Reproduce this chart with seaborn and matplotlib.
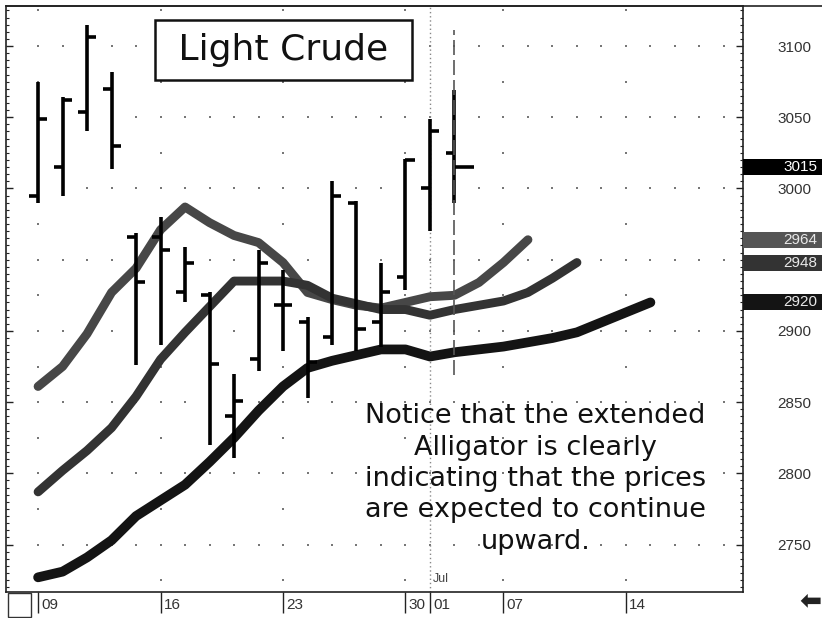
import numpy as np
import pandas as pd
import seaborn as sns
import matplotlib
matplotlib.use("Agg")
import matplotlib.pyplot as plt
from matplotlib.patches import Rectangle
from matplotlib.lines import Line2D
from matplotlib.ticker import MultipleLocator
from matplotlib.transforms import blended_transform_factory, ScaledTranslation

# trading days shown on the chart (Jul 4 holiday skipped)
days = pd.bdate_range("2003-06-09", "2003-07-18", freq="C", holidays=["2003-07-04"])

# daily OHLC bars (price in cents)
opens = [2995, 3015, 3054, 3070, 2966, 2966, 2927, 2925, 2840, 2880, 2918, 2906, 2896, 2990, 2906, 2938, 3000, 3025]
highs = [3075, 3064, 3115, 3082, 2969, 2980, 2959, 2927, 2870, 2957, 2943, 2910, 3005, 2991, 2948, 3021, 3049, 3069]
lows = [2990, 2995, 3040, 3014, 2876, 2890, 2920, 2820, 2811, 2872, 2886, 2853, 2890, 2886, 2889, 2929, 2970, 2990]
closes = [3049, 3062, 3106, 3030, 2934, 2957, 2948, 2877, 2851, 2948, 2918, 2878, 2995, 2901, 2927, 3020, 3040, 3015]

# extended alligator lines
lips = [2861, 2875, 2898, 2927, 2944, 2971, 2987, 2976, 2967, 2962, 2948, 2927, 2922, 2918, 2916,
        2920, 2924, 2925, 2934, 2948, 2964]
teeth = [2787, 2802, 2816, 2832, 2854, 2880, 2899, 2917, 2935, 2935, 2935, 2932, 2923, 2919, 2915,
         2915, 2911, 2915, 2918, 2921, 2927, 2937, 2948]
jaw = [2727, 2731, 2741, 2753, 2770, 2781, 2792, 2808, 2825, 2844, 2861, 2874, 2879, 2883, 2887,
       2887, 2882, 2885, 2887, 2889, 2892, 2895, 2899, 2906, 2913, 2920]

# 2950 sits under the value boxes, so it is not labelled
price_ticks = [2750, 2800, 2850, 2900, 3000, 3050, 3100]
cursor_span = (2869, 3111)  # dashed line on the last bar

title = "Light Crude"
note = ("Notice that the extended\nAlligator is clearly\nindicating that the prices\n"
        "are expected to continue\nupward.")

sns.set_theme(style="white")
plt.rcParams['font.family'] = ['DejaVu Sans']

fig = plt.figure(figsize=(8.22, 6.18), dpi=100)
fig.patch.set_facecolor("white")
ax = fig.add_axes([6 / 822, 26 / 618, 737 / 822, 586 / 618])

pos = np.arange(len(days))
mondays = pos[days.dayofweek == 0]
jul1 = pos[(days.month == 7) & (days.day == 1)][0]

# dotted grid: daily columns at every 50, weekly columns at every 25
gx, gy = np.meshgrid(pos, np.arange(2750, 3101, 50))
ax.scatter(gx.ravel(), gy.ravel(), s=2, marker="s", color="#777777", linewidths=0, zorder=1)
gx, gy = np.meshgrid(mondays, np.arange(2725, 3126, 25))
ax.scatter(gx.ravel(), gy.ravel(), s=2, marker="s", color="#777777", linewidths=0, zorder=1)
ax.axvline(jul1, color="#888888", lw=1, ls=(0, (1, 2)), zorder=1)

# alligator lines
for vals, col, lw in [(lips, "#474747", 6.4), (teeth, "#333333", 6.4), (jaw, "#141414", 7.0)]:
    d = pd.DataFrame({"x": pos[:len(vals)], "y": vals})
    sns.lineplot(data=d, x="x", y="y", ax=ax, color=col, lw=lw, sort=False,
                 solid_capstyle="round", solid_joinstyle="round", zorder=2)

# OHLC bars
bx = pos[:len(opens)]
ax.vlines(bx, lows, highs, colors="black", lw=2.6, zorder=3)
ax.hlines(opens, bx - 0.36, bx, colors="black", lw=2.6, zorder=3)
tick_r = np.full(len(closes), 0.38)
tick_r[-1] = 0.78
ax.hlines(closes, bx, bx + tick_r, colors="black", lw=2.6, zorder=3)
ax.vlines(bx[-1], *cursor_span, colors="#555555", lw=1.2, linestyles=(0, (9, 3)), zorder=3)

ax.set_xlim(-1.31, 28.78)
ax.set_ylim(2716.7, 3128.1)
ax.set_xlabel("")
ax.set_ylabel("")

for s in ax.spines.values():
    s.set_color("#222222")
    s.set_linewidth(1.2)

# price axis on the right
ax.set_yticks(price_ticks)
ax.yaxis.set_minor_locator(MultipleLocator(5))
ax.tick_params(axis="y", which="both", direction="in", left=True, right=True,
               labelleft=False, labelright=True, color="#222222")
ax.tick_params(axis="y", which="major", length=5, width=1, pad=25,
               labelsize=11, labelcolor="#333333")
ax.tick_params(axis="y", which="minor", length=2.5, width=0.8)
for lab in ax.get_yticklabels():
    lab.set_fontfamily("Liberation Sans")

# date axis
xt = np.sort(np.unique(np.concatenate([mondays, [jul1]])))
ax.set_xticks(xt)
ax.set_xticklabels(days[xt].strftime("%d"))
ax.tick_params(axis="x", which="major", direction="out", length=15, width=1, pad=-11,
               labelsize=11, labelcolor="#333333", color="#222222", bottom=True, top=False)
shift = ScaledTranslation(3 / 100, 0, fig.dpi_scale_trans)
for lab in ax.get_xticklabels():
    lab.set_fontfamily("Liberation Sans")
    lab.set_horizontalalignment("left")
    lab.set_transform(lab.get_transform() + shift)

bt = blended_transform_factory(ax.transData, ax.transAxes)
ax.text(jul1, 0.012, "Jul", transform=bt + shift, ha="left", va="bottom",
        fontsize=9, color="#444444", family="Liberation Sans")

# last-value boxes at the right
rt = blended_transform_factory(ax.transAxes, ax.transData)
for val, fc, tc in [(closes[-1], "#000000", "white"), (lips[-1], "#555555", "#e8e8e8"),
                    (teeth[-1], "#333333", "#e8e8e8"), (jaw[-1], "#141414", "#e8e8e8")]:
    ax.add_patch(Rectangle((1.0, val - 5.6), 0.107, 11.2, transform=rt, fc=fc, ec="none",
                           clip_on=False, zorder=5))
    ax.text(1.1004, val, str(val), transform=rt, ha="right", va="center", fontsize=11,
            color=tc, family="Liberation Sans", clip_on=False, zorder=6)

# title box and note
ax.text(0.3765, 0.925, " " + title + " ", transform=ax.transAxes, ha="center", va="center",
        fontsize=26, color="#111111",
        bbox=dict(boxstyle="square,pad=0.35", fc="white", ec="#111111", lw=1.8), zorder=6)
ax.text(0.718, 0.193, note, transform=ax.transAxes, ha="center", va="center",
        multialignment="center", fontsize=19.5, linespacing=1.27, color="#111111", zorder=6)

# frame bits outside the plot
fig.add_artist(Line2D([6 / 822, 1], [1 - 6 / 618, 1 - 6 / 618], color="#222222", lw=1.2))
fig.add_artist(Rectangle((8 / 822, 1 / 618), 23 / 822, 24 / 618, fill=False, ec="#333333",
                         lw=1, transform=fig.transFigure))
fig.text(810 / 822, 1 - 601 / 618, "\u2b05", ha="center", va="center", fontsize=19,
         fontweight="bold", color="#222222")

fig.savefig("out.png", dpi=100, facecolor="white")
